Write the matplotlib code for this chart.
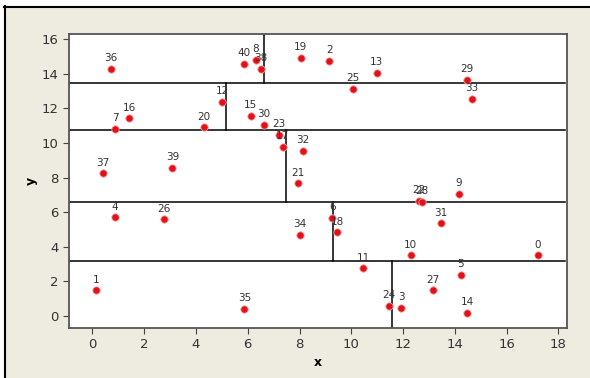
import matplotlib.pyplot as plt
from matplotlib.lines import Line2D

# point ids and coordinates
ids = [36, 40, 8, 38, 19, 2, 13, 25, 29, 33, 12, 16, 7, 20, 15, 30, 23, 17, 32,
       37, 39, 21, 4, 26, 34, 6, 18, 22, 28, 9, 31, 10, 0, 11, 5, 27, 24, 3, 14, 1, 35]
xs = [0.72, 5.87, 6.32, 6.50, 8.05, 9.15, 10.98, 10.07, 14.47, 14.66, 5.02, 1.43, 0.88,
      4.32, 6.12, 6.63, 7.20, 7.36, 8.12, 0.40, 3.09, 7.93, 0.88, 2.78, 8.02, 9.27, 9.45,
      12.62, 12.72, 14.15, 13.47, 12.29, 17.20, 10.46, 14.22, 13.15, 11.44, 11.93, 14.47,
      0.13, 5.87]
ys = [14.27, 14.56, 14.79, 14.27, 14.90, 14.75, 14.06, 13.11, 13.65, 12.54, 12.38, 11.42,
      10.82, 10.90, 11.57, 11.05, 10.48, 9.76, 9.53, 8.24, 8.57, 7.66, 5.70, 5.59, 4.68,
      5.66, 4.85, 6.65, 6.60, 7.07, 5.37, 3.52, 3.52, 2.77, 2.37, 1.50, 0.60, 0.48, 0.19,
      1.50, 0.42]

# partition lines
h_cuts = [13.46, 10.75, 6.57, 3.18]
v_cuts = [6.64, 5.17, 7.49, 9.31, 11.57]
v_lo = [13.46, 10.75, 6.57, 3.18, -0.69]
v_hi = [16.27, 13.46, 10.75, 6.57, 3.18]

xmin, xmax = -0.9, 18.34
ymin, ymax = -0.69, 16.27
bg = '#EEEBE1'

fig = plt.figure(figsize=(5.9, 3.78), dpi=100)
fig.patch.set_facecolor('white')

# outer panel with dark left/top border
fig.patches.append(plt.Rectangle((4 / 590, 0), 1, 1 - 6 / 378, transform=fig.transFigure,
                                 facecolor=bg, edgecolor='none', zorder=-2))
fig.lines.append(Line2D([4.5 / 590, 4.5 / 590], [0, 1 - 6 / 378], transform=fig.transFigure,
                        color='black', lw=1.5))
fig.lines.append(Line2D([4 / 590, 1], [1 - 6.5 / 378, 1 - 6.5 / 378], transform=fig.transFigure,
                        color='black', lw=1.5))

ax = fig.add_axes([69 / 590, 1 - 328 / 378, (567.3 - 69) / 590, (328 - 34.3) / 378])
ax.set_facecolor('white')

for y in h_cuts:
    ax.plot([xmin, 18.24], [y, y], color='black', lw=1.1, zorder=2)
for x, lo, hi in zip(v_cuts, v_lo, v_hi):
    ax.plot([x, x], [lo, hi], color='black', lw=1.1, zorder=2)

ax.scatter(xs, ys, s=28, color='#E3101A', edgecolors='#F6A0A0', linewidths=0.6, zorder=3)
for i, x, y in zip(ids, xs, ys):
    ax.annotate(str(i), (x, y), xytext=(0, 4), textcoords='offset points',
                ha='center', va='bottom', fontsize=7.5, color='#333333', zorder=4)

ax.set_xlim(xmin, xmax)
ax.set_ylim(ymin, ymax)
ax.set_xticks(range(0, 19, 2))
ax.set_yticks(range(0, 17, 2))
ax.tick_params(direction='out', length=4, labelsize=9.5, colors='#444444', labelcolor='#333333')
for s in ax.spines.values():
    s.set_color('#555555')
    s.set_linewidth(1.3)
ax.set_xlabel('x', fontsize=9, fontweight='bold', labelpad=3)
ax.set_ylabel('y', fontsize=9, fontweight='bold', labelpad=3)

plt.savefig('out.png', dpi=100, facecolor=fig.get_facecolor())
